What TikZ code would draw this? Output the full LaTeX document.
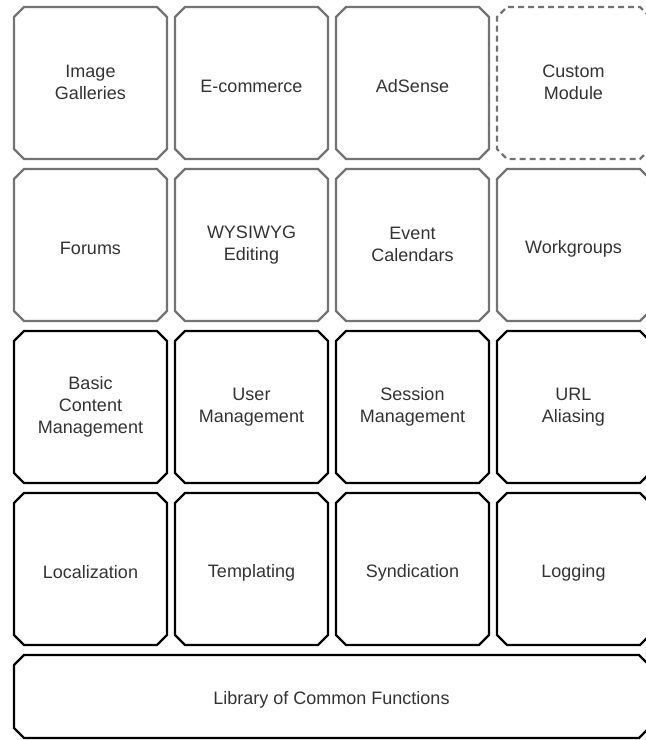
\documentclass[tikz,border=0pt]{standalone}
\usepackage{fontspec}
\setmainfont{Liberation Sans}
\usetikzlibrary{shapes.misc}
\newcommand{\modtop}{\rule{0pt}{20.5pt}}
\newcommand{\modbot}{\rule[-1.5pt]{0pt}{1.5pt}}
\begin{document}
\begin{tikzpicture}[x=1pt,y=-1pt]
		\tikzstyle{module}=[chamfered rectangle,chamfered rectangle xsep=5pt,chamfered rectangle ysep=5pt,minimum width=153pt,minimum height=152pt,inner sep=0pt,align=center,text=black!80,font=\fontsize{18}{22}\selectfont,execute at begin node=\modtop,execute at end node=\modbot]
		\tikzstyle{upper}=[module,draw=black!55,line width=2.2pt]
		\tikzstyle{lower}=[module,draw=black,line width=2.4pt]
		\tikzstyle{custom}=[upper,dash pattern=on 6pt off 4pt]
		\useasboundingbox (0,0) rectangle (646,740);

		% optional modules
		\foreach \c / \t in {1/{Image\\Galleries},2/{E-commerce},3/{AdSense}} {
			\node[upper] (opt\c) at ({90.5+161*(\c-1)},83) {\t};
		}
		\node[custom] (opt4) at (573.5,83) {Custom\\Module};
		\foreach \c / \t in {1/{Forums},2/{WYSIWYG\\Editing},3/{Event\\Calendars},4/{Workgroups}} {
			\node[upper] (ext\c) at ({90.5+161*(\c-1)},245) {\t};
		}

		% core
		\foreach \c / \t in {1/{Basic\\Content\\Management},2/{User\\Management},3/{Session\\Management},4/{URL\\Aliasing}} {
			\node[lower] (core\c) at ({90.5+161*(\c-1)},407) {\t};
		}
		\foreach \c / \t in {1/{Localization},2/{Templating},3/{Syndication},4/{Logging}} {
			\node[lower] (base\c) at ({90.5+161*(\c-1)},569) {\t};
		}

		\node[lower,minimum width=635pt,minimum height=83pt] (lib) at (331.5,696.5) {Library of Common Functions};
	\end{tikzpicture}
\end{document}
